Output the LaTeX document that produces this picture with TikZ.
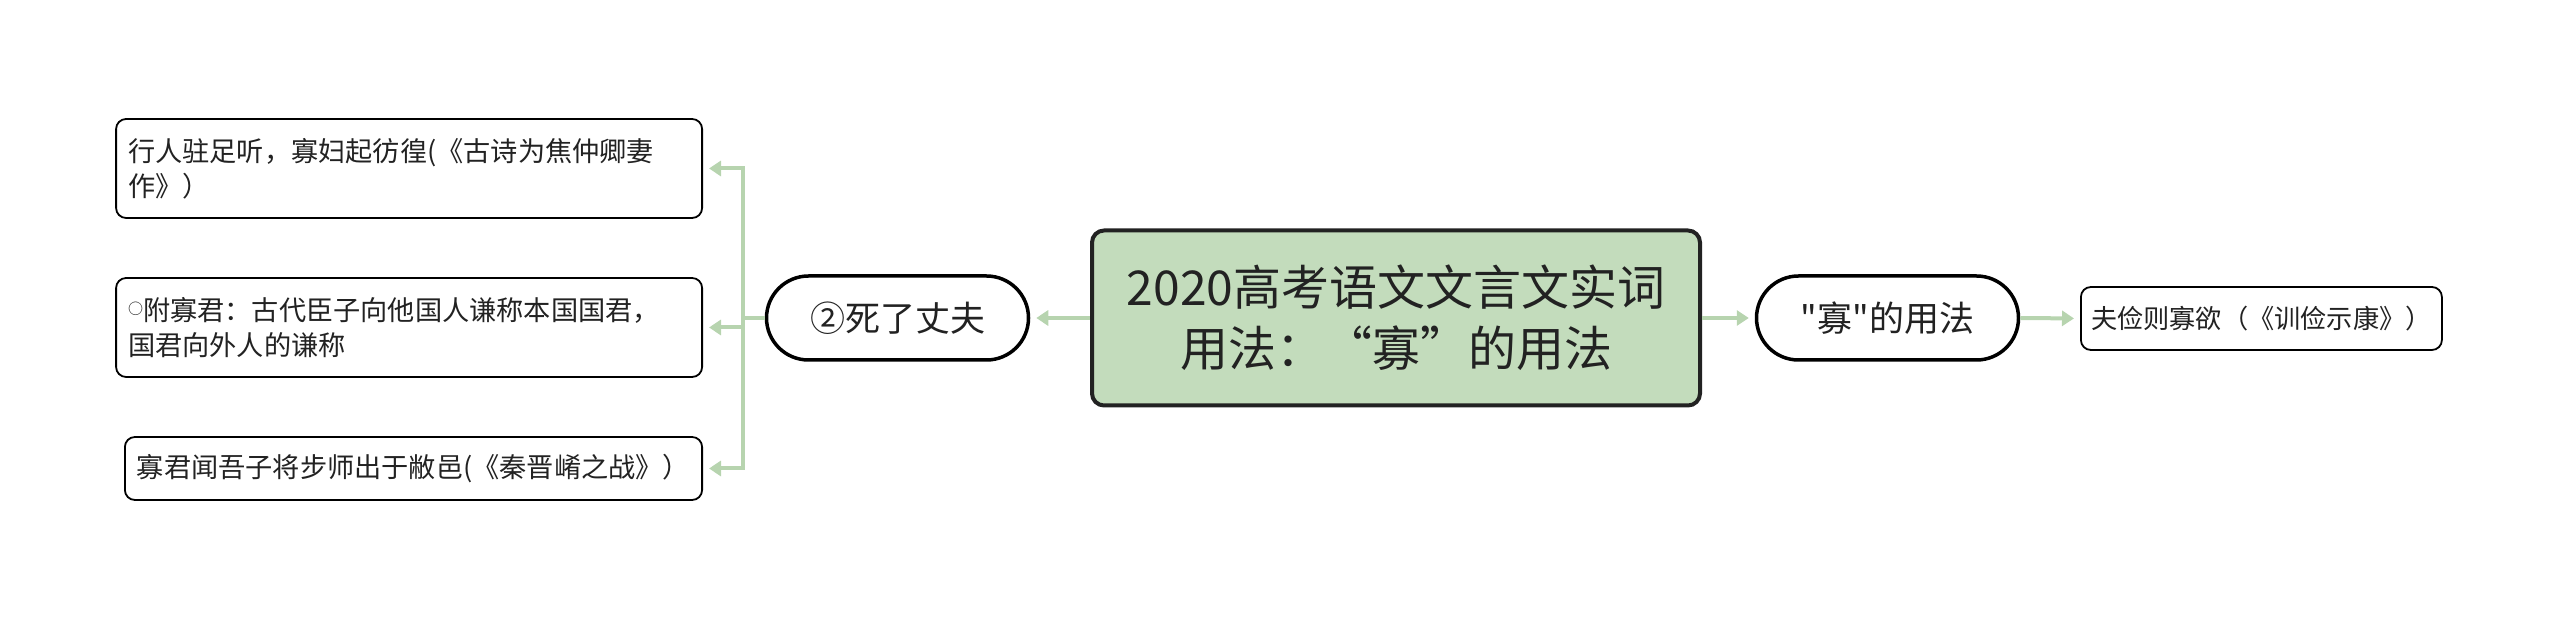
\documentclass[tikz,border=0pt]{standalone}
\usepackage{fontspec}
\setmainfont{Noto Sans CJK SC}[Ligatures=TeXOff]
\usepackage{xcolor}
\usetikzlibrary{arrows.meta}
\definecolor{rootgreen}{HTML}{C3DCBC}
\definecolor{linkgreen}{HTML}{B7D4AF}
\definecolor{inkgray}{HTML}{222222}
\newcommand{\smallring}{\raisebox{2.8pt}{\fontsize{7.5pt}{7.5pt}\selectfont ○}}

\begin{document}
\begin{tikzpicture}[x=0.5pt,y=-0.5pt,
	rootbox/.style={draw=inkgray,line width=2pt,fill=rootgreen,rounded corners=6pt,align=center,
		minimum width=304pt,minimum height=87.5pt,text=inkgray,font=\fontsize{24pt}{30.5pt}\selectfont},
	subbox/.style={draw=black,line width=1.75pt,fill=white,rounded corners=21pt,
		minimum width=131pt,minimum height=42pt,text=inkgray,font=\fontsize{17.5pt}{21pt}\selectfont},
	leafbox/.style={draw=black,line width=0.9pt,fill=white,rounded corners=5pt,align=left,
		inner xsep=6pt,text=inkgray,font=\fontsize{13.6pt}{17.5pt}\selectfont},
	link/.style={draw=linkgreen,line width=2pt},
	tip/.style={-{Triangle[length=6pt,width=7.5pt]},shorten >=3pt}]
	\useasboundingbox (0,0) rectangle (2560,619);
	%
	\node[rootbox] (root) at (1396,318) {2020高考语文文言文实词\\用法：“寡”的用法};
	\node[subbox] (sl) at (897.5,318) {②死了丈夫};
	\node[subbox] (sr) at (1887.5,318) {"寡"的用法};
	\node[leafbox,anchor=east,text width=281pt,minimum height=49.5pt] (l1) at (703,168.5)
		{行人驻足听，寡妇起彷徨(《古诗为焦仲卿妻\\作》）};
	\node[leafbox,anchor=east,text width=281pt,minimum height=49.5pt] (l2) at (703,327.5)
		{\smallring 附寡君：古代臣子向他国人谦称本国国君，\\国君向外人的谦称};
	\node[leafbox,anchor=east,minimum width=287.5pt,minimum height=31.5pt] (l3) at (703,468.5)
		{寡君闻吾子将步师出于敝邑(《秦晋崤之战》）};
	\node[leafbox,anchor=west,inner xsep=5pt,minimum width=180.5pt,minimum height=31.5pt,
		font=\fontsize{13.1pt}{15pt}\selectfont] (r1) at (2080,318.5)
		{夫俭则寡欲（《训俭示康》）};
	\coordinate (bus) at (743,318);
	%
	\draw[link,tip] (root.west) -- (sl.east);
	\draw[link,tip] (root.east) -- (sr.west);
	\draw[link,tip] (sr.east) -- (r1.west);
	\draw[link] (sl.west) -- (bus);
	\draw[link,tip] (bus) |- (l1.east);
	\draw[link,tip] (bus) |- (l2.east);
	\draw[link,tip] (bus) |- (l3.east);
\end{tikzpicture}
\end{document}
